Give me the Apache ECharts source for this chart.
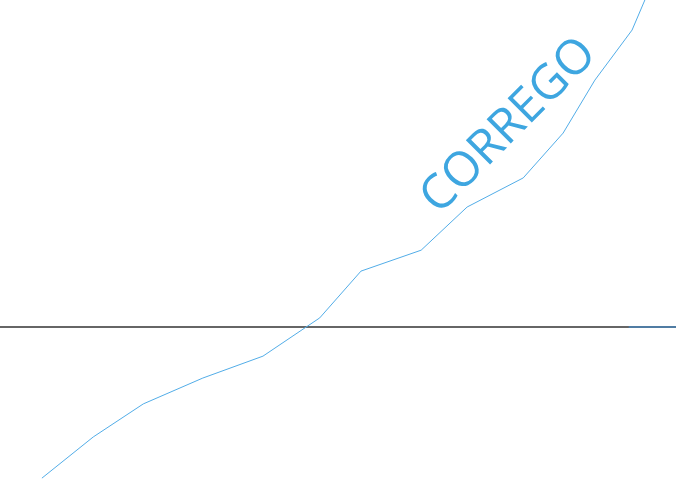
<!DOCTYPE html>
<html>
<head>
<meta charset="utf-8">
<script src="https://cdn.jsdelivr.net/npm/echarts@6/dist/echarts.min.js"></script>
<style>
html,body{margin:0;padding:0;background:#fff;}
#c{width:676px;height:485px;}
</style>
</head>
<body>
<div id="c"></div>
<script>
// Main series (x, y)
const xValues = [6.2, 13.8, 21.2, 30.0, 38.9, 47.3, 53.4, 62.3, 69.1, 77.4, 83.3, 88.0, 93.5, 97.6];
const yValues = [-46.2, -33.6, -23.5, -15.6, -8.9, 2.8, 17.1, 23.5, 36.7, 45.6, 59.3, 75.5, 90.8, 110.7];
// Short flat series along zero at the right end
const flatX = [93.0, 100.0];
const flatY = [0, 0];
const labelText = 'CORREGO';

const mainData = xValues.map((x, i) => [x, yValues[i]]);
const flatData = flatX.map((x, i) => [x, flatY[i]]);

const chart = echarts.init(document.getElementById('c'), null, {renderer: 'canvas'});
chart.setOption({
  animation: false,
  backgroundColor: '#ffffff',
  grid: {left: 0, right: 0, top: 0, bottom: 0},
  xAxis: {
    type: 'value', min: 0, max: 100,
    axisLine: {show: true, onZero: true, lineStyle: {color: '#333333', width: 1.5}},
    axisTick: {show: false}, axisLabel: {show: false}, splitLine: {show: false}
  },
  yAxis: {
    type: 'value', min: -48.3, max: 100,
    show: false, splitLine: {show: false}
  },
  series: [
    {
      type: 'line', data: mainData, showSymbol: false, symbol: 'none',
      lineStyle: {color: '#52ade8', width: 1}, z: 3
    },
    {
      type: 'line', data: flatData, showSymbol: false, symbol: 'none',
      lineStyle: {color: '#4a84b8', width: 1.5}, z: 4
    }
  ],
  graphic: [{
    type: 'text', x: 509, y: 126, rotation: Math.PI / 4,
    style: {
      text: labelText, font: '48px "Open Sans", sans-serif', fill: '#3ea6e0',
      textAlign: 'center', textVerticalAlign: 'middle'
    }
  }]
});
</script>
</body>
</html>
